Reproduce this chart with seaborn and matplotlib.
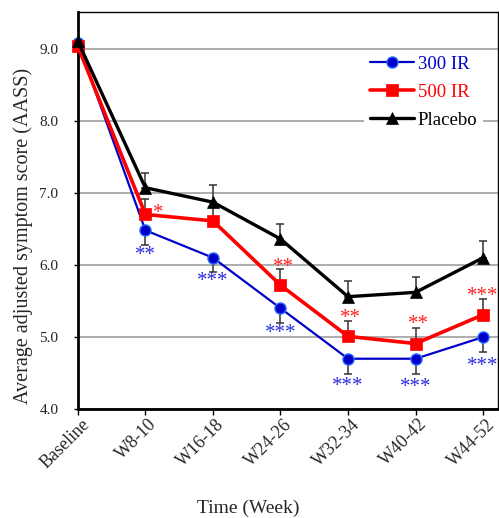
import matplotlib
matplotlib.use('Agg')
import matplotlib.pyplot as plt
import matplotlib.transforms as mtransforms
import seaborn as sns
import pandas as pd

weeks = ['Baseline', 'W8-10', 'W16-18', 'W24-26', 'W32-34', 'W40-42', 'W44-52']
ir300 = [9.08, 6.48, 6.10, 5.40, 4.70, 4.70, 5.00]
ir500 = [9.03, 6.70, 6.61, 5.72, 5.01, 4.91, 5.31]
placebo = [9.10, 7.07, 6.87, 6.36, 5.56, 5.62, 6.10]
err300 = [0, 0.20, 0.20, 0.20, 0.21, 0.21, 0.21]
err500 = [0, 0.22, 0.20, 0.22, 0.21, 0.22, 0.22]
errpla = [0, 0.21, 0.24, 0.21, 0.22, 0.21, 0.23]
stars300 = ['', '**', '***', '***', '***', '***', '***']
stars500 = ['', '*', '', '**', '**', '**', '***']

sns.set_style('white')
plt.rcParams['font.family'] = ['Liberation Serif', 'DejaVu Serif']

df = pd.DataFrame({'week': list(range(len(weeks))) * 3,
                   'score': ir300 + ir500 + placebo,
                   'err': err300 + err500 + errpla,
                   'group': ['300 IR'] * 7 + ['500 IR'] * 7 + ['Placebo'] * 7})

fig = plt.figure(figsize=(4.99, 5.18), dpi=100)
ax = fig.add_axes([0.156, 0.21, 0.842, 0.766])

# estilo de cada grupo
estilos = {
    '300 IR': dict(color='#0000c8', marker='o', lw=1.6, ms=8, mec='#2a6cff', mew=1.0),
    '500 IR': dict(color='#ff0000', marker='s', lw=2.6, ms=8.5, mec='#ff0000', mew=0.5),
    'Placebo': dict(color='#000000', marker='^', lw=2.4, ms=9, mec='#000000', mew=0.5),
}

# barras de erro (só para um lado)
for g, lado in [('300 IR', 'baixo'), ('500 IR', 'cima'), ('Placebo', 'cima')]:
    d = df[df['group'] == g]
    e = d['err'].values
    yerr = [e, [0] * len(e)] if lado == 'baixo' else [[0] * len(e), e]
    ax.errorbar(d['week'], d['score'], yerr=yerr, fmt='none', ecolor='#333333',
                elinewidth=1.1, capsize=3.2, capthick=1.1, zorder=2, clip_on=False)

for g in ['300 IR', '500 IR', 'Placebo']:
    s = estilos[g]
    sns.lineplot(data=df[df['group'] == g], x='week', y='score', ax=ax, color=s['color'],
                 marker=s['marker'], linewidth=s['lw'], markersize=s['ms'],
                 markeredgecolor=s['mec'], markeredgewidth=s['mew'], label=g,
                 zorder=3, clip_on=False)

# asteriscos
dy300 = [0, -18, -17, -18, -20, -20.5, -21]
dy500 = [0, 1, 0, 13, 13, 14, 13]
for i in range(len(weeks)):
    if stars300[i]:
        ax.annotate(stars300[i], (i, ir300[i]), xytext=(0, dy300[i]), textcoords='offset points',
                    ha='center', va='center', color='#2a2ae0', fontsize=15)
    if stars500[i]:
        dx = 9 if i == 1 else (0 if i == 6 else 2)
        ax.annotate(stars500[i], (i, ir500[i]), xytext=(dx, dy500[i]), textcoords='offset points',
                    ha='center', va='center', color='#ff2020', fontsize=15)

ax.set_xlim(0, 6.22)
ax.set_ylim(4.0, 9.5)
ax.set_yticks([4, 5, 6, 7, 8, 9])
ax.set_yticklabels(['4.0', '5.0', '6.0', '7.0', '8.0', '9.0'], fontsize=11)
ax.set_xticks(range(len(weeks)))
ax.set_xticklabels(weeks, rotation=45, ha='right', va='center', rotation_mode='anchor', fontsize=13)
ax.tick_params(axis='both', direction='out', length=4, width=1, color='black', left=True, bottom=True)
ax.tick_params(axis='x', pad=5)
ax.tick_params(axis='y', pad=11, length=3)
desloc = mtransforms.ScaledTranslation(6.5 / 72, 0, fig.dpi_scale_trans)
for lbl in ax.get_xticklabels():
    lbl.set_transform(lbl.get_transform() + desloc)
ax.yaxis.grid(True, color='#a0a0a0', linewidth=1.2)
ax.set_axisbelow(True)

for lado in ['left', 'bottom']:
    ax.spines[lado].set_linewidth(2)
    ax.spines[lado].set_color('black')
for lado in ['top', 'right']:
    ax.spines[lado].set_linewidth(1)
    ax.spines[lado].set_color('black')

ax.set_xlabel('Time (Week)', fontsize=14)
ax.set_ylabel('Average adjusted symptom score (AASS)', fontsize=14.5)
ax.xaxis.set_label_coords(0.405, -0.228)
ax.yaxis.set_label_coords(-0.107, 0.437)

leg = ax.legend(loc='upper left', bbox_to_anchor=(0.681, 0.905), frameon=True, fontsize=13.5,
                handlelength=2.35, labelspacing=0.57, handletextpad=0.21,
                borderpad=0.3, borderaxespad=0,
                labelcolor=['#0000c8', '#ff0000', '#000000'])
leg.get_frame().set_facecolor('white')
leg.get_frame().set_edgecolor('none')
leg.get_frame().set_alpha(1)
leg.get_frame().set_boxstyle('square', pad=0)

fig.savefig('out.png', dpi=100)
